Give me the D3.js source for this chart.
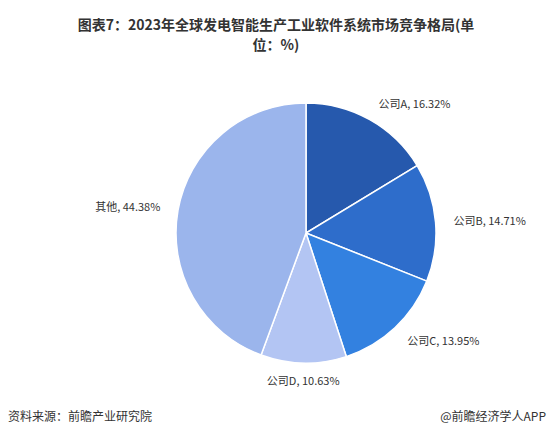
<!DOCTYPE html>
<html><head><meta charset="utf-8">
<script src="https://cdn.jsdelivr.net/npm/d3@7/dist/d3.min.js"></script>
<style>body{margin:0;background:#fff}</style></head>
<body><svg id="c" width="552" height="438"></svg>
<script>
const categories=["公司A","公司B","公司C","公司D","其他"];
const values=[16.32,14.71,13.95,10.63,44.38];
const colors=["#2659ad","#2e6dcb","#3381e0","#b3c5f3","#9bb5ec"];
const svg=d3.select("#c");
const F="'Noto Sans CJK SC',sans-serif";
svg.append("text").attr("x",276).attr("y",30).attr("text-anchor","middle").attr("font-family",F).attr("font-weight","bold").attr("font-size",14).attr("fill","#333").text("图表7：2023年全球发电智能生产工业软件系统市场竞争格局(单");
svg.append("text").attr("x",276).attr("y",50).attr("text-anchor","middle").attr("font-family",F).attr("font-weight","bold").attr("font-size",14).attr("fill","#333").text("位：%)");
const cx=306,cy=233,r=130;
const pie=d3.pie().sort(null).value(d=>d)(values);
const arc=d3.arc().innerRadius(0).outerRadius(r);
const g=svg.append("g").attr("transform",`translate(${cx},${cy})`);
g.selectAll("path").data(pie).join("path").attr("d",arc).attr("fill",(d,i)=>colors[i]).attr("stroke","#fff").attr("stroke-width",1.5);
const la=d3.arc().innerRadius(r+18).outerRadius(r+18);
g.selectAll("text").data(pie).join("text").attr("font-family",F).attr("font-size",11).attr("fill","#333")
 .attr("transform",d=>{const[x,y]=la.centroid(d);return `translate(${x},${y+4})`;})
 .attr("text-anchor",d=>{const m=(d.startAngle+d.endAngle)/2;return m<Math.PI-0.3?"start":(m>Math.PI+0.3?"end":"middle");})
 .text((d,i)=>`${categories[i]}, ${values[i].toFixed(2)}%`);
svg.append("text").attr("x",8).attr("y",421).attr("font-family",F).attr("font-size",12).attr("fill","#333").text("资料来源：前瞻产业研究院");
svg.append("text").attr("x",546).attr("y",421).attr("text-anchor","end").attr("font-family",F).attr("font-size",12).attr("fill","#333").text("@前瞻经济学人APP");
</script></body></html>
